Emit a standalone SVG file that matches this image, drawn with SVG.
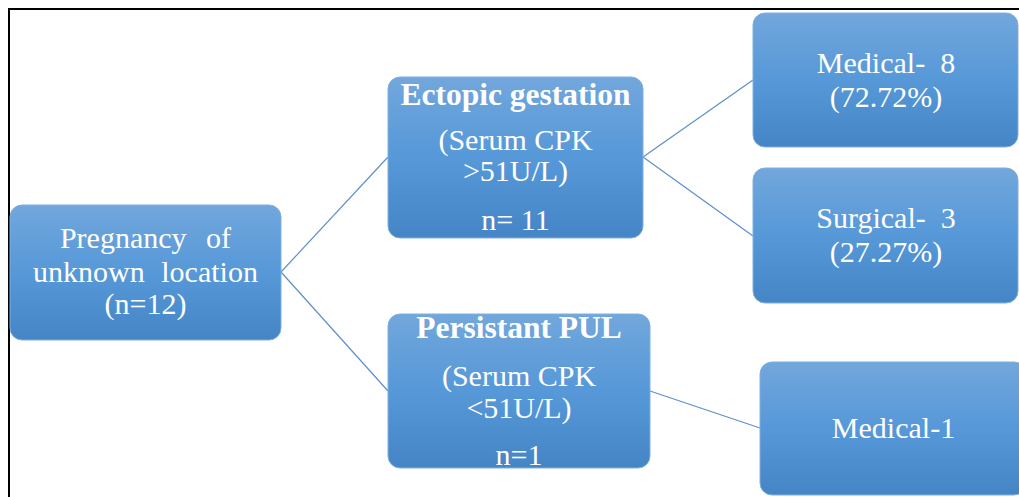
<svg xmlns="http://www.w3.org/2000/svg" width="1019" height="497" viewBox="0 0 1019 497">
<defs>
<linearGradient id="g" x1="0" y1="0" x2="0" y2="1">
<stop offset="0" stop-color="#72a7dc"/>
<stop offset="0.5" stop-color="#5698d8"/>
<stop offset="1" stop-color="#4585c5"/>
</linearGradient>
<style>
.box{fill:url(#g);stroke:#7fb0e0;stroke-width:1}
.t{font-family:"Liberation Serif","Times New Roman",serif;font-size:30px;fill:#fff;text-anchor:middle}
.b{font-weight:bold;font-size:31.5px}
.c{stroke:#5f8fc8;stroke-width:1.2;fill:none}
</style>
</defs>
<rect width="1019" height="497" fill="#fff"/>
<path d="M9 497V9H1019" fill="none" stroke="#000" stroke-width="2"/>
<g id="connectors">
<line class="c" x1="281" y1="272" x2="388" y2="157"/>
<line class="c" x1="281" y1="272" x2="388" y2="391"/>
<line class="c" x1="643" y1="157" x2="753" y2="80"/>
<line class="c" x1="643" y1="157" x2="753" y2="236"/>
<line class="c" x1="650" y1="391" x2="760" y2="428"/>
</g>
<g id="root">
<rect class="box" x="10" y="205" width="271" height="135" rx="12"/>
<text class="t" x="145.5" y="248" word-spacing="12">Pregnancy of</text>
<text class="t" x="145.5" y="282" word-spacing="9">unknown location</text>
<text class="t" x="145.5" y="314">(n=12)</text>
</g>
<g id="ectopic">
<rect class="box" x="388" y="77" width="255" height="161" rx="12"/>
<text class="t b" x="515.5" y="105">Ectopic gestation</text>
<text class="t" x="515.5" y="150">(Serum CPK</text>
<text class="t" x="515.5" y="181">&gt;51U/L)</text>
<text class="t" x="515.5" y="230">n= 11</text>
</g>
<g id="persistant">
<rect class="box" x="388" y="314" width="262" height="154" rx="12"/>
<text class="t b" x="519" y="338">Persistant PUL</text>
<text class="t" x="519" y="386">(Serum CPK</text>
<text class="t" x="519" y="418">&lt;51U/L)</text>
<text class="t" x="519" y="465">n=1</text>
</g>
<g id="medical8">
<rect class="box" x="753" y="13" width="265" height="134" rx="12"/>
<text class="t" x="886" y="73" xml:space="preserve">Medical-  8</text>
<text class="t" x="886" y="107">(72.72%)</text>
</g>
<g id="surgical">
<rect class="box" x="753" y="168" width="265" height="135" rx="12"/>
<text class="t" x="886" y="228" xml:space="preserve">Surgical-  3</text>
<text class="t" x="886" y="262">(27.27%)</text>
</g>
<g id="medical1">
<rect class="box" x="760" y="362" width="266" height="133" rx="12"/>
<text class="t" x="893.5" y="438">Medical-1</text>
</g>
</svg>
